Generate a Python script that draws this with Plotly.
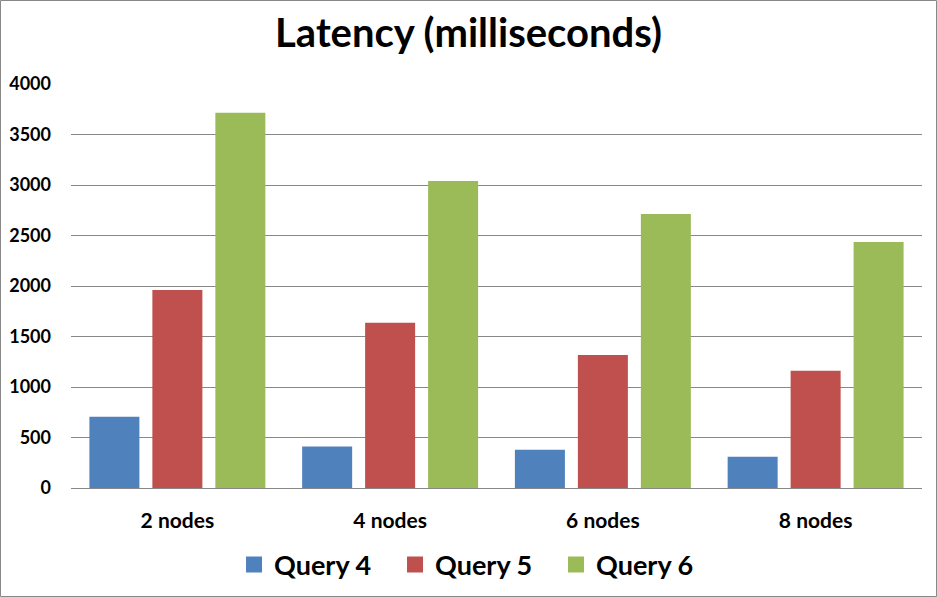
import plotly.graph_objects as go

categories = ["2 nodes", "4 nodes", "6 nodes", "8 nodes"]
query4 = [705, 410, 378, 310]
query5 = [1960, 1635, 1318, 1160]
query6 = [3715, 3040, 2713, 2436]
y_ticks = [0, 500, 1000, 1500, 2000, 2500, 3000, 3500, 4000]

W, H = 937, 597
ML, MR, MT, MB = 71, 15, 84, 109
FONT = "Lato, 'Open Sans', Arial, sans-serif"

series = [("Query 4", query4, "#4F81BD"),
          ("Query 5", query5, "#C0504D"),
          ("Query 6", query6, "#9BBB59")]

fig = go.Figure()
for name, vals, col in series:
    fig.add_trace(go.Bar(x=categories, y=vals, name=name, marker_color=col,
                         marker_line_width=0, showlegend=False))
# legend entries with larger square swatches
for name, vals, col in series:
    fig.add_trace(go.Scatter(x=[None], y=[None], mode="markers", name=name,
                             marker=dict(symbol="square", size=16, color=col)))

pw = W - ML - MR
ph = H - MT - MB
fig.add_shape(type="rect", xref="paper", yref="paper",
              x0=(0.5 - ML) / pw, x1=(W - 0.5 - ML) / pw,
              y0=-(MB - 0.5) / ph, y1=(ph + MT - 0.5) / ph,
              line=dict(color="#888888", width=1), layer="below")

fig.update_layout(
    width=W, height=H,
    margin=dict(l=ML, r=MR, t=MT, b=MB, autoexpand=False),
    paper_bgcolor="white", plot_bgcolor="white",
    title=dict(text="<b>Latency (milliseconds)</b>", x=0.5, xref="container",
               xanchor="center", y=1 - 33 / H, yanchor="middle",
               font=dict(family=FONT, size=40, color="black")),
    barmode="group", bargap=0.112, bargroupgap=0.206,
    legend=dict(orientation="h", x=0.5075, xanchor="center", xref="container",
                y=-(565 - 488) / ph, yanchor="middle",
                font=dict(family=FONT, size=27, color="black", weight="bold"),
                itemsizing="trace", traceorder="normal", tracegroupgap=0,
                entrywidth=116, entrywidthmode="pixels"),
    xaxis=dict(showline=False, ticks="", automargin=False,
               tickfont=dict(family=FONT, size=21, color="black", weight="bold"),
               ticklabelstandoff=18),
    yaxis=dict(range=[0, 4000], tickvals=y_ticks, showgrid=True, automargin=False,
               gridcolor="#888888", gridwidth=1.2, zeroline=True,
               zerolinecolor="#888888", zerolinewidth=1.2, ticks="",
               tickfont=dict(family=FONT, size=18, color="black", weight="bold"),
               ticklabelstandoff=19),
)

fig.write_html("out.html", config={"displayModeBar": False},
               post_script="document.body.style.margin='0';document.body.style.overflow='hidden';")
